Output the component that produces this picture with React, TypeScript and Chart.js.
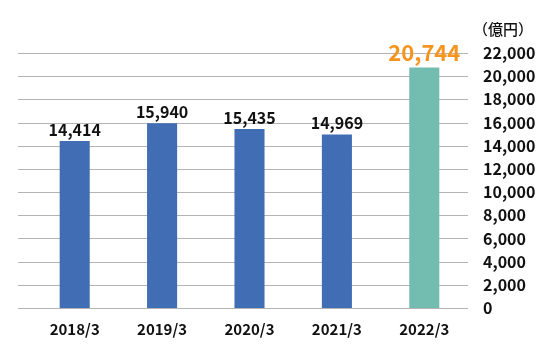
import React, { useEffect, useRef } from "react";
import { Chart, registerables } from "chart.js";

Chart.register(...registerables);

const categories = ["2018/3", "2019/3", "2020/3", "2021/3", "2022/3"];
const values = [14414, 15940, 15435, 14969, 20744];
const barColors = ["#406db3", "#406db3", "#406db3", "#406db3", "#72bdb0"];
const labelColors = ["#111111", "#111111", "#111111", "#111111", "#f7941d"];
const unitLabel = "（億円）";
const yMax = 22000;
const yStep = 2000;

const FONT = "'Noto Sans CJK JP', 'Noto Sans', sans-serif";

export default function App() {
  const ref = useRef<HTMLCanvasElement>(null);
  useEffect(() => {
    document.body.style.margin = "0";
    const canvas = ref.current!;
    const gridPlugin = {
      id: "extGrid",
      beforeDatasetsDraw(chart: any) {
        const { ctx, chartArea, scales } = chart;
        const y = scales.y;
        ctx.save();
        ctx.strokeStyle = "#b4b4b4";
        ctx.lineWidth = 1;
        for (let v = 0; v <= yMax; v += yStep) {
          const py = Math.round(y.getPixelForValue(v)) + 0.5;
          ctx.beginPath();
          ctx.moveTo(18, py);
          ctx.lineTo(chartArea.right, py);
          ctx.stroke();
        }
        ctx.restore();
      },
      afterDatasetsDraw(chart: any) {
        const { ctx, scales } = chart;
        const meta = chart.getDatasetMeta(0);
        ctx.save();
        ctx.textAlign = "center";
        ctx.textBaseline = "alphabetic";
        meta.data.forEach((bar: any, i: number) => {
          const big = i === values.length - 1;
          ctx.fillStyle = labelColors[i];
          ctx.font = `bold ${big ? 22 : 16}px ${FONT}`;
          ctx.fillText(values[i].toLocaleString("en-US"), bar.x, bar.y - (big ? 7 : 5));
        });
        ctx.fillStyle = "#111111";
        ctx.font = `500 15px ${FONT}`;
        ctx.textAlign = "left";
        ctx.textBaseline = "middle";
        ctx.fillText(unitLabel, scales.y.left + 5, 29);
        ctx.restore();
      },
    };
    const chart = new Chart(canvas, {
      type: "bar",
      data: {
        labels: categories,
        datasets: [
          {
            data: values,
            backgroundColor: barColors,
            categoryPercentage: 1,
            barPercentage: 0.344,
          },
        ],
      },
      options: {
        animation: false,
        responsive: false,
        layout: { padding: { left: 31, top: 53, right: 0, bottom: 0 } },
        plugins: { legend: { display: false }, tooltip: { enabled: false } },
        scales: {
          x: {
            grid: { display: false, drawTicks: false },
            border: { display: false },
            ticks: {
              color: "#111111",
              font: { family: FONT, size: 15, weight: "bold" },
              padding: 12,
              maxRotation: 0,
            },
            afterFit(scale: any) {
              scale.height = 49;
            },
          },
          y: {
            position: "right",
            min: 0,
            max: yMax,
            grid: { display: false, drawTicks: false },
            border: { display: false },
            ticks: {
              stepSize: yStep,
              color: "#111111",
              font: { family: FONT, size: 16, weight: "bold" },
              crossAlign: "near",
              padding: 15,
              callback: (v: any) => Number(v).toLocaleString("en-US"),
            },
            afterFit(scale: any) {
              scale.width = 87;
            },
          },
        },
      },
      plugins: [gridPlugin],
    });
    return () => chart.destroy();
  }, []);
  return <canvas ref={ref} width={555} height={357} style={{ display: "block" }} />;
}
